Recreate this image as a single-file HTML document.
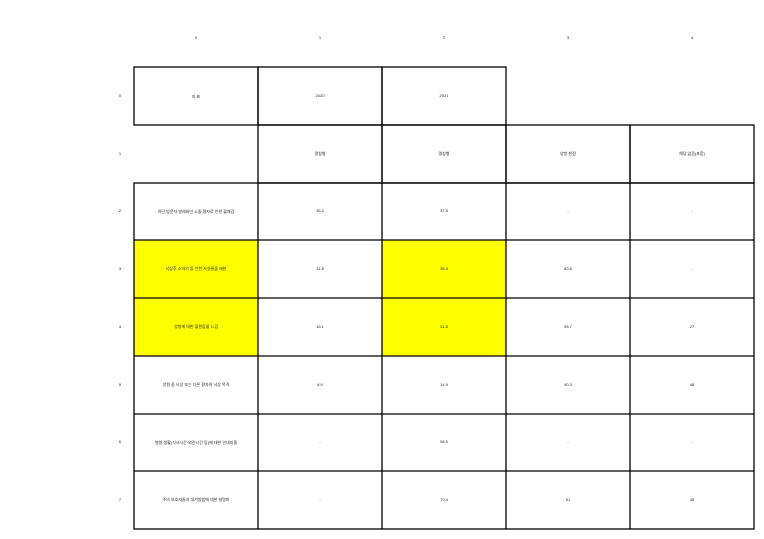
<!DOCTYPE html>
<html><head><meta charset="utf-8"><style>
html,body{margin:0;padding:0;background:#fff;width:764px;height:539px;overflow:hidden}
svg text{font-family:"Liberation Sans","Noto Sans CJK KR",sans-serif;font-size:4px;fill:#222;text-anchor:middle;dominant-baseline:middle}
</style></head><body>
<svg width="764" height="539" viewBox="0 0 764 539" xmlns="http://www.w3.org/2000/svg">
<g>
<text x="196" y="38">0</text><text x="320" y="38">1</text><text x="444" y="38">2</text><text x="568" y="38">3</text><text x="692" y="38">4</text>
<text x="120" y="96">0</text><text x="120" y="154">1</text><text x="120" y="211">2</text><text x="120" y="269">3</text>
<text x="120" y="327">4</text><text x="120" y="385">5</text><text x="120" y="442">6</text><text x="120" y="500">7</text>
</g>
<g fill="#ffff00">
<rect x="134" y="240" width="124" height="116"/>
<rect x="382" y="240" width="124" height="116"/>
</g>
<g stroke="#000" stroke-width="1.3" fill="none">
<rect x="134" y="67" width="124" height="58"/><rect x="258" y="67" width="124" height="58"/><rect x="382" y="67" width="124" height="58"/>
<rect x="258" y="125" width="124" height="58"/><rect x="382" y="125" width="124" height="58"/><rect x="506" y="125" width="124" height="58"/><rect x="630" y="125" width="124" height="58"/>
<rect x="134" y="183" width="620" height="346"/>
<line x1="258" y1="183" x2="258" y2="529"/><line x1="382" y1="183" x2="382" y2="529"/><line x1="506" y1="183" x2="506" y2="529"/><line x1="630" y1="183" x2="630" y2="529"/>
<line x1="134" y1="240" x2="754" y2="240"/><line x1="134" y1="298" x2="754" y2="298"/><line x1="134" y1="356" x2="754" y2="356"/><line x1="134" y1="414" x2="754" y2="414"/><line x1="134" y1="471" x2="754" y2="471"/>
</g>
<g>
<text x="196" y="97">지 표</text><text x="320" y="96">2020</text><text x="444" y="96">2021</text>
<text x="320" y="154">명칭형</text><text x="444" y="154">명칭형</text><text x="568" y="154">양방 한정</text><text x="692" y="154">해당 없음(포함)</text>
<text x="196" y="212">아단 방문자 발레바인 소중 환자로 인한 불쾌감</text><text x="320" y="211">35.2</text><text x="444" y="211">37.8</text><text x="568" y="211">-</text><text x="692" y="211">-</text>
<text x="196" y="269">낙상후 소아기 등 인한 사실물을 재현</text><text x="320" y="269">31.8</text><text x="444" y="269">35.4</text><text x="568" y="269">83.6</text><text x="692" y="269">-</text>
<text x="196" y="327">양방에 대한 불편감을 느낌</text><text x="320" y="327">18.1</text><text x="444" y="327">31.5</text><text x="568" y="327">95.7</text><text x="692" y="327">27</text>
<text x="196" y="385">양원 중 낙상 또는 다른 환자의 낙상 목격</text><text x="320" y="385">8.9</text><text x="444" y="385">14.9</text><text x="568" y="385">90.3</text><text x="692" y="385">48</text>
<text x="196" y="443">병원 생활(식사시간·외진시간 등)에 대한 안내미흡</text><text x="320" y="442">-</text><text x="444" y="442">98.5</text><text x="568" y="442">-</text><text x="692" y="442">-</text>
<text x="196" y="500">주의 보호자들과 대기방법에 대한 설명미</text><text x="320" y="500">-</text><text x="444" y="500">70.4</text><text x="568" y="500">51</text><text x="692" y="500">45</text>
</g>
</svg>
</body></html>
